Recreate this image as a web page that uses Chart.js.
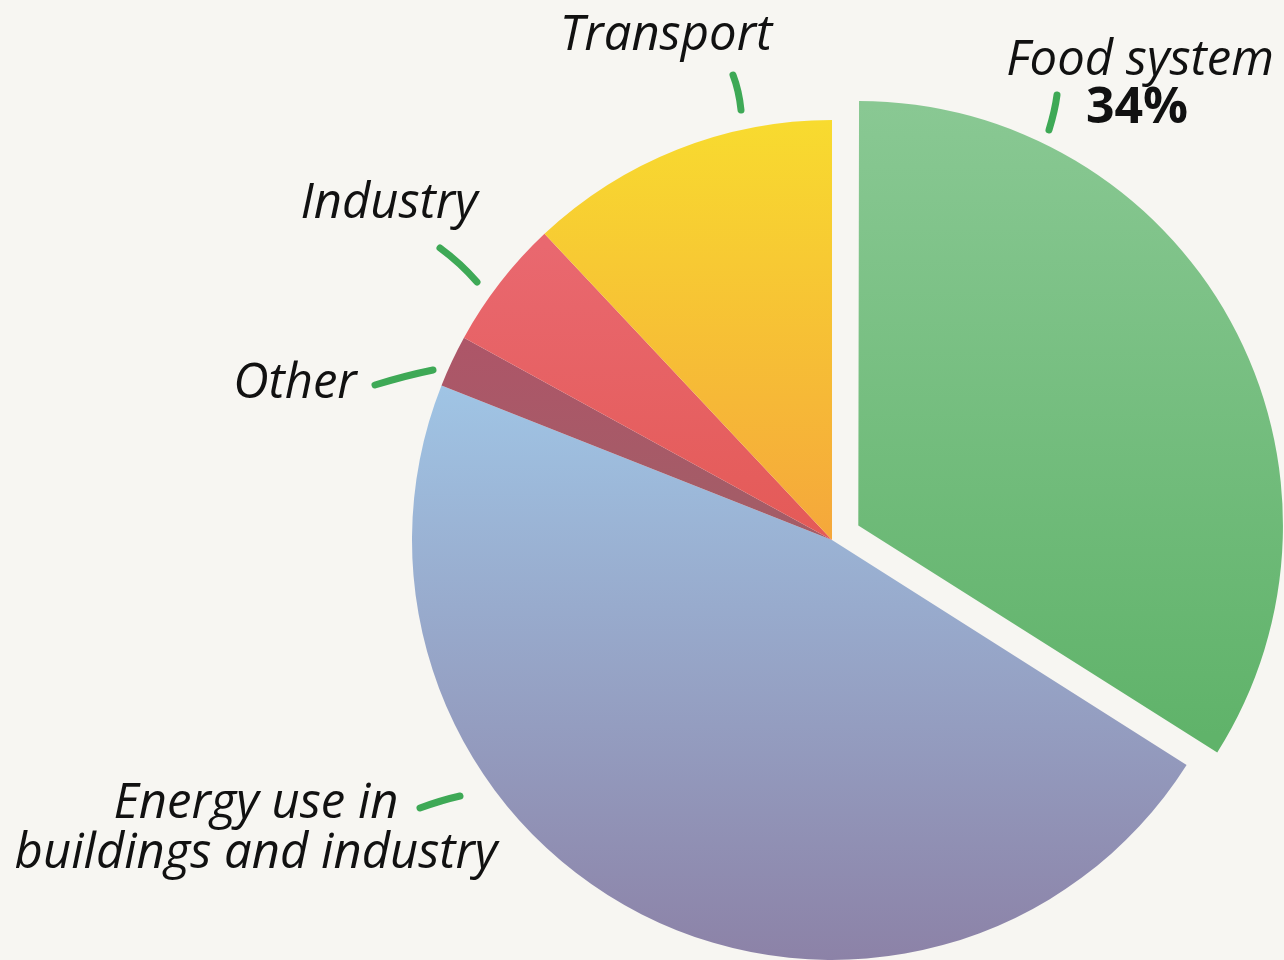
<!DOCTYPE html>
<html>
<head>
<meta charset="utf-8">
<script src="https://cdn.jsdelivr.net/npm/chart.js@4.4.1/dist/chart.umd.min.js"></script>
<style>
body { margin: 0; background: #f7f6f2; }
#wrap { width: 1284px; height: 960px; position: relative; }
</style>
</head>
<body>
<div id="wrap"><canvas id="pieChart" width="1284" height="960"></canvas></div>
<script>
// data, clockwise from the top
var labels = ['Food system', 'Energy use in buildings and industry', 'Other', 'Industry', 'Transport'];
var values = [34, 47, 2, 5, 12];
// chart.js draws offset / 4, so 120 -> 30px pull out
var offsets = [120, 0, 0, 0, 0];

// gradient stops per slice (top colour, bottom colour, stop positions in the pie box)
var topColors = ['#89c893', '#a0c6e6', '#ae5568', '#e9686f', '#f8db2f'];
var bottomColors = ['#60b36a', '#8c82a7', '#a45c67', '#e45a57', '#f5a73b'];
var topStops = [0, 0.3, 0.25, 0.15, 0];
var bottomStops = [0.75, 1, 0.45, 0.5, 0.5];

// label text and placement relative to pie centre
var labelLines = [['Food system'], ['Energy use in', 'buildings and industry'], ['Other'], ['Industry'], ['Transport']];
var labelPos = [[308, -465], [-576, 278], [-537, -142], [-443, -322], [-166, -490]];
var tickFrom = [[225, -445], [-412, 268], [-457, -155], [-392, -292], [-99, -465]];
var tickTo = [[217, -410], [-372, 256], [-399, -170], [-355, -258], [-91, -430]];

var pieRadius = 420;
var labelFont = 'italic 49px "Open Sans", "Noto Sans", sans-serif';

function sliceColor(context) {
	var i = context.dataIndex;
	var chart = context.chart;
	var area = chart.chartArea;
	if (!area) {
		return topColors[i];
	}
	var cy = (area.top + area.bottom) / 2;
	var g = chart.ctx.createLinearGradient(0, cy - pieRadius, 0, cy + pieRadius);
	g.addColorStop(topStops[i], topColors[i]);
	g.addColorStop(bottomStops[i], bottomColors[i]);
	return g;
}

var labelPlugin = {
	id: 'sliceLabels',
	afterDatasetsDraw: function(chart) {
		var ctx = chart.ctx;
		var arc = chart.getDatasetMeta(0).data[1];
		var cx = arc.x;
		var cy = arc.y;
		ctx.save();

		// green hand drawn ticks
		ctx.strokeStyle = '#3ea956';
		ctx.lineWidth = 7;
		ctx.lineCap = 'round';
		for (var i = 0; i < tickFrom.length; i++) {
			var x1 = cx + tickFrom[i][0], y1 = cy + tickFrom[i][1];
			var x2 = cx + tickTo[i][0], y2 = cy + tickTo[i][1];
			ctx.beginPath();
			ctx.moveTo(x1, y1);
			ctx.quadraticCurveTo((x1 + x2) / 2 + 2, (y1 + y2) / 2 - 2, x2, y2);
			ctx.stroke();
		}

		ctx.fillStyle = '#111';
		ctx.textAlign = 'center';
		ctx.textBaseline = 'alphabetic';
		for (var j = 0; j < labelLines.length; j++) {
			ctx.font = labelFont;
			var lines = labelLines[j];
			for (var k = 0; k < lines.length; k++) {
				ctx.fillText(lines[k], cx + labelPos[j][0], cy + labelPos[j][1] + k * 50);
			}
		}

		// share of the food system
		ctx.font = 'bold 50px "Open Sans", "Noto Sans", sans-serif';
		ctx.fillText(values[0] + '%', cx + labelPos[0][0] - 3, cy + labelPos[0][1] + 48);
		ctx.restore();
	}
};

var ctx = document.getElementById('pieChart');
var pieChart = new Chart(ctx, {
	type: 'pie',
	data: {
		labels: labels,
		datasets: [{
			data: values,
			backgroundColor: sliceColor,
			borderWidth: 0,
			offset: offsets
		}]
	},
	options: {
		responsive: false,
		animation: false,
		radius: pieRadius,
		layout: {
			padding: { left: 380, right: 0, top: 120, bottom: 0 }
		},
		plugins: {
			legend: { display: false },
			tooltip: { enabled: false }
		}
	},
	plugins: [labelPlugin]
});
</script>
</body>
</html>
